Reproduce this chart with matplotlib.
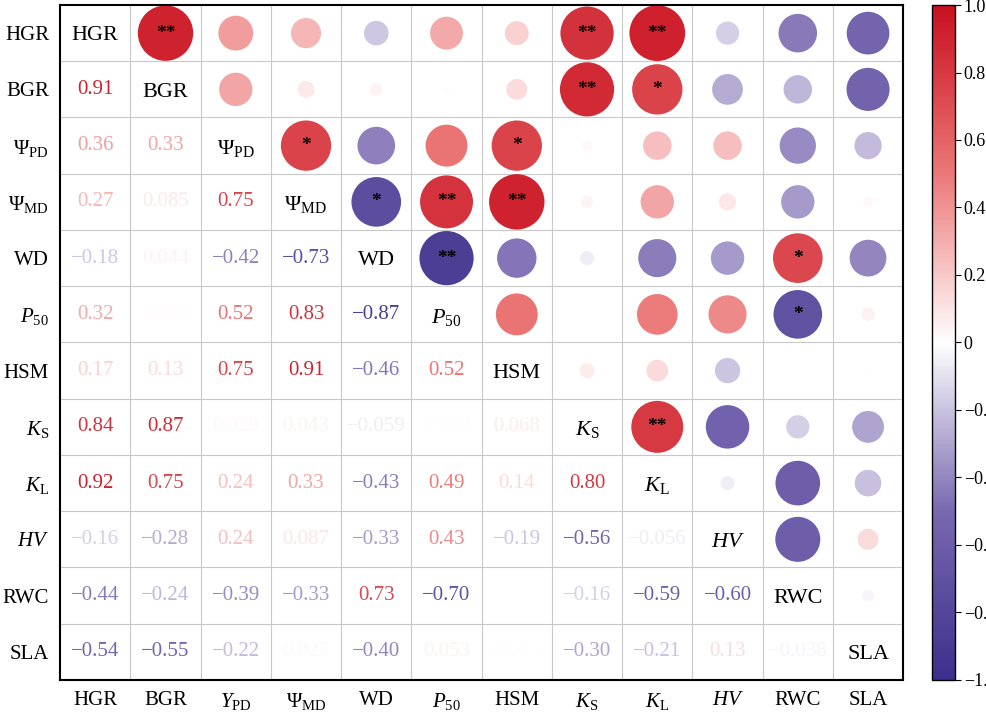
import numpy as np
import matplotlib
matplotlib.use("Agg")
import matplotlib.pyplot as plt
from matplotlib.colors import LinearSegmentedColormap, Normalize

plt.rcParams['font.family'] = ['Liberation Serif', 'DejaVu Serif']
plt.rcParams['mathtext.fontset'] = 'custom'
plt.rcParams['mathtext.rm'] = 'Liberation Serif'
plt.rcParams['mathtext.it'] = 'Liberation Serif:italic'
plt.rcParams['mathtext.bf'] = 'Liberation Serif:bold'

labels = [r'HGR', r'BGR', r'$\mathit{Ψ}_{\mathrm{PD}}$', r'$\mathit{Ψ}_{\mathrm{MD}}$', 'WD',
          r'$\mathit{P}_{50}$', 'HSM', r'$\mathit{K}_{\mathrm{S}}$', r'$\mathit{K}_{\mathrm{L}}$',
          r'$\mathit{HV}$', 'RWC', 'SLA']
bottom_labels = ['HGR', 'BGR', r'$\mathit{Y}_{\mathrm{PD}}$', r'$\mathit{Ψ}_{\mathrm{MD}}$', 'WD',
                 r'$\mathit{P}_{50}$', 'HSM', r'$\mathit{K}_{\mathrm{S}}$', r'$\mathit{K}_{\mathrm{L}}$',
                 r'$\mathit{HV}$', 'RWC', 'SLA']

lower = [
    [],
    [0.91],
    [0.36, 0.33],
    [0.27, 0.085, 0.75],
    [-0.18, 0.044, -0.42, -0.73],
    [0.32, 0.01, 0.52, 0.83, -0.87],
    [0.17, 0.13, 0.75, 0.91, -0.46, 0.52],
    [0.84, 0.87, 0.029, 0.043, -0.059, 0.003, 0.068],
    [0.92, 0.75, 0.24, 0.33, -0.43, 0.49, 0.14, 0.80],
    [-0.16, -0.28, 0.24, 0.087, -0.33, 0.43, -0.19, -0.56, -0.056],
    [-0.44, -0.24, -0.39, -0.33, 0.73, -0.70, 0.0, -0.16, -0.59, -0.60],
    [-0.54, -0.55, -0.22, 0.027, -0.40, 0.053, 0.005, -0.30, -0.21, 0.13, -0.038],
]
stars = {(0, 1): '**', (0, 7): '**', (0, 8): '**', (1, 7): '**', (1, 8): '*',
         (2, 3): '*', (2, 6): '*', (3, 4): '*', (3, 5): '**', (3, 6): '**',
         (4, 5): '**', (4, 10): '*', (5, 10): '*', (7, 8): '**'}
hidden_text = {(10, 6)}

n = len(labels)
M = np.eye(n)
for i, row in enumerate(lower):
    for j, v in enumerate(row):
        M[i, j] = v
        M[j, i] = v

cmap = LinearSegmentedColormap.from_list('c', [
    (0.0, '#3c2f8c'), (0.25, '#7a68b0'), (0.5, '#ffffff'), (0.75, '#ec7878'), (1.0, '#c8101f')])
norm = Normalize(-1, 1)

def fmt(v):
    a = abs(v)
    if a >= 0.095:
        s = f'{v:.2f}'
    elif a >= 0.01:
        s = f'{v:.3f}'
    elif a >= 0.001:
        s = f'{v:.3f}'
    else:
        s = ''
    return s.replace('-', '\u2212')

fig = plt.figure(figsize=(9.86, 7.15), dpi=100)
ax = fig.add_axes([0.061, 0.049, 0.855, 0.944])
ax.set_xlim(-0.5, n - 0.5)
ax.set_ylim(n - 0.5, -0.5)
for k in range(1, n):
    ax.axhline(k - 0.5, color='#c8c8c8', lw=0.8, zorder=0)
    ax.axvline(k - 0.5, color='#c8c8c8', lw=0.8, zorder=0)

for i in range(n):
    for j in range(n):
        v = M[i, j]
        if i == j:
            ax.text(j, i + 0.05, labels[i], ha='center', va='center', fontsize=16, color='black')
        elif i > j:
            if (i, j) in hidden_text:
                continue
            s = fmt(v)
            if s:
                ax.text(j, i, s, ha='center', va='center', fontsize=15, color=cmap(norm(v)))
            else:
                ax.scatter(j, i, s=3, color=cmap(norm(v)))
        else:
            ax.scatter(j, i, s=1750 * abs(v), color=cmap(norm(v)), edgecolors='none', zorder=2)
            if (i, j) in stars:
                ax.text(j, i, stars[(i, j)], ha='center', va='center', fontsize=14,
                        fontweight='bold', color='black', zorder=3)

ax.set_xticks(range(n))
ax.set_xticklabels(bottom_labels, fontsize=15)
ax.set_yticks(range(n))
ax.set_yticklabels(labels, fontsize=15)
ax.tick_params(length=0, pad=8)
for sp in ax.spines.values():
    sp.set_linewidth(1.5)

cax = fig.add_axes([0.945, 0.049, 0.024, 0.944])
cb = fig.colorbar(plt.cm.ScalarMappable(norm=norm, cmap=cmap), cax=cax)
ticks = [-1.0, -0.8, -0.6, -0.4, -0.2, 0, 0.2, 0.4, 0.6, 0.8, 1.0]
cb.set_ticks(ticks)
cb.set_ticklabels([('0' if t == 0 else f'{t:.1f}').replace('-', '\u2212') for t in ticks])
cb.ax.tick_params(labelsize=13, length=4, pad=2)
cb.outline.set_linewidth(1)

fig.savefig('out.png', dpi=100)
